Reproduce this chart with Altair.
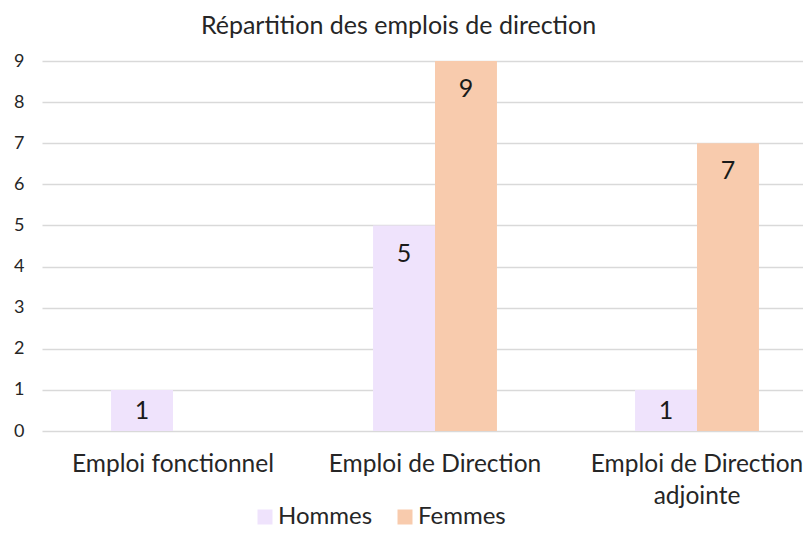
import altair as alt
import pandas as pd

categories = ["Emploi fonctionnel", "Emploi de Direction", "Emploi de Direction adjointe"]
series = ["Hommes", "Femmes"]
hommes = [1, 5, 1]
femmes = [0, 9, 7]
colors = ["#EFE3FC", "#F8CBAD"]
y_ticks = [0, 1, 2, 3, 4, 5, 6, 7, 8, 9]

rows = []
for c, h, f in zip(categories, hommes, femmes):
    rows.append({"cat": c, "serie": "Hommes", "v": h})
    rows.append({"cat": c, "serie": "Femmes", "v": f})
df = pd.DataFrame(rows)

FONT = "Lato"

x_enc = alt.X(
    "cat:N",
    sort=categories,
    title=None,
    scale=alt.Scale(range=[0, 786], paddingInner=0.527, paddingOuter=0.2635),
    axis=alt.Axis(
        labelAngle=0,
        domain=False,
        ticks=False,
        labelPadding=21,
        labelFontSize=24.5,
        labelFont=FONT,
        labelColor="#262626",
        labelLineHeight=32,
        labelLimit=400,
        labelExpr="datum.label == 'Emploi de Direction adjointe' ? ['Emploi de Direction', 'adjointe'] : datum.label",
    ),
)
xoff = alt.XOffset("serie:N", sort=series, scale=alt.Scale(paddingInner=0, paddingOuter=0))

bars = alt.Chart(df).mark_bar().encode(
    x=x_enc,
    xOffset=xoff,
    y=alt.Y(
        "v:Q",
        title=None,
        scale=alt.Scale(domain=[0, 9], nice=False),
        axis=alt.Axis(
            values=y_ticks,
            domain=False,
            ticks=False,
            labelPadding=18,
            labelFontSize=18,
            labelFont=FONT,
            labelColor="#262626",
            gridColor="#D9D9D9",
            gridWidth=1.3,
        ),
    ),
    color=alt.Color(
        "serie:N",
        sort=series,
        scale=alt.Scale(domain=series, range=colors),
        legend=alt.Legend(
            title=None,
            orient="none",
            direction="horizontal",
            legendX=211,
            legendY=444,
            symbolType="square",
            symbolSize=225,
            symbolStrokeWidth=0,
            symbolOpacity=1,
            labelFontSize=24,
            labelFont=FONT,
            labelColor="#262626",
            labelOffset=1,
            columnPadding=20,
        ),
    ),
)

labels = (
    alt.Chart(df)
    .transform_filter("datum.v > 0")
    .transform_calculate(pos="max(datum.v - 0.66, datum.v / 2)")
    .mark_text(fontSize=25, font=FONT, color="#1a1a1a", baseline="middle", dy=1)
    .encode(x=x_enc, xOffset=xoff, y=alt.Y("pos:Q"), text=alt.Text("v:Q"))
)

chart = (
    alt.layer(bars, labels)
    .properties(
        width=761,
        height=370,
        autosize=alt.AutoSizeParams(type="none"),
        padding={"left": 34, "top": 53, "right": 0, "bottom": 97},
        title=alt.TitleParams(
            "Répartition des emplois de direction",
            font=FONT,
            fontSize=25,
            fontWeight="normal",
            color="#262626",
            anchor="middle",
            dx=-24,
            offset=13,
        ),
    )
    .configure_view(stroke=None)
)

chart.save("out.html", embed_options={"renderer": "svg", "actions": False})
